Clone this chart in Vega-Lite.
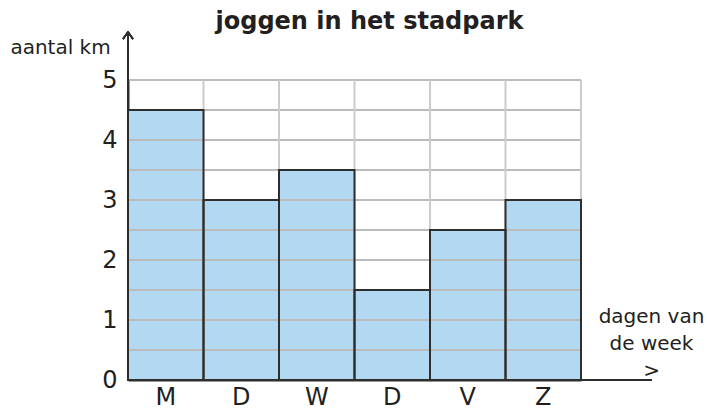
{
  "$schema": "https://vega.github.io/schema/vega-lite/v6.json",
  "width": 453,
  "height": 300,
  "autosize": {"type": "none"},
  "padding": {"left": 128, "top": 80, "right": 126, "bottom": 32},
  "background": "white",
  "title": {
    "text": "joggen in het stadpark",
    "frame": "group",
    "anchor": "middle",
    "baseline": "alphabetic",
    "offset": 8,
    "dx": 15,
    "dy": 32,
    "fontSize": 24,
    "fontWeight": "bold",
    "font": "DejaVu Sans",
    "color": "#231f20"
  },
  "config": {
    "view": {"stroke": null},
    "font": "DejaVu Sans"
  },
  "data": {
    "values": [
      {"dag": "M", "km": 4.5},
      {"dag": "D1", "km": 3},
      {"dag": "W", "km": 3.5},
      {"dag": "D2", "km": 1.5},
      {"dag": "V", "km": 2.5},
      {"dag": "Z", "km": 3}
    ]
  },
  "encoding": {
    "x": {
      "field": "dag",
      "type": "nominal",
      "sort": null,
      "scale": {"paddingInner": 0, "paddingOuter": 0},
      "axis": {
        "title": ["dagen van", "de week", ">"],
        "titleFont": "DejaVu Sans",
        "titleFontSize": 20,
        "titleFontWeight": "normal",
        "titleColor": "#231f20",
        "titleAlign": "center",
        "titleBaseline": "top",
        "titleAnchor": null,
        "titleX": 523,
        "titleY": -74,
        "titleLineHeight": 27,
        "labelAngle": 0,
        "labelFont": "DejaVu Sans",
        "labelFontSize": 24,
        "labelColor": "#231f20",
        "labelPadding": 5,
        "labelExpr": "substring(datum.label, 0, 1)",
        "ticks": false,
        "domainColor": "#2e2e2e",
        "domainWidth": 2,
        "grid": false
      }
    },
    "y": {
      "field": "km",
      "type": "quantitative",
      "scale": {"domain": [0, 5], "nice": false},
      "axis": {
        "title": "aantal km",
        "titleFont": "DejaVu Sans",
        "titleAngle": 0,
        "titleFontSize": 20,
        "titleFontWeight": "normal",
        "titleColor": "#231f20",
        "titleAlign": "center",
        "titleBaseline": "middle",
        "titleAnchor": null,
        "titleX": -68,
        "titleY": -33,
        "values": [0, 1, 2, 3, 4, 5],
        "labelFont": "DejaVu Sans",
        "labelFontSize": 24,
        "labelColor": "#231f20",
        "labelPadding": 11,
        "ticks": false,
        "domainColor": "#2e2e2e",
        "domainWidth": 2,
        "grid": false
      }
    }
  },
  "layer": [
    {
      "mark": {"type": "bar", "fill": "#b3d8f1", "strokeWidth": 0}
    },
    {
      "data": {
        "values": [
          {"km": 0.5}, {"km": 1}, {"km": 1.5}, {"km": 2}, {"km": 2.5},
          {"km": 3}, {"km": 3.5}, {"km": 4}, {"km": 4.5}, {"km": 5}
        ]
      },
      "mark": {"type": "rule", "color": "#bbbbbb", "strokeWidth": 2},
      "encoding": {
        "x": null,
        "y": {"field": "km", "type": "quantitative"}
      }
    },
    {
      "mark": {"type": "rule", "color": "#cccccc", "strokeWidth": 2},
      "encoding": {
        "x": {"field": "dag", "type": "nominal", "sort": null, "bandPosition": 1},
        "y": {"datum": 0},
        "y2": {"datum": 5}
      }
    },
    {
      "mark": {"type": "bar", "fill": null, "fillOpacity": 0, "stroke": "#2e2e2e", "strokeWidth": 2}
    },
    {
      "mark": {"type": "rule", "color": "#2e2e2e", "strokeWidth": 1.5},
      "encoding": {
        "x": {"datum": "M", "bandPosition": 0},
        "y": {"datum": 0},
        "y2": {"datum": 5.8}
      }
    },
    {
      "mark": {"type": "rule", "color": "#2e2e2e", "strokeWidth": 1.5},
      "encoding": {
        "x": {"datum": "Z", "bandPosition": 1},
        "x2": {"datum": "Z", "bandPosition": 1.94},
        "y": {"datum": 0}
      }
    },
    {
      "mark": {
        "type": "point",
        "shape": "M-1,1.4L0,0L1,1.4",
        "filled": false,
        "stroke": "#2e2e2e",
        "strokeWidth": 1.5,
        "size": 100,
        "opacity": 1
      },
      "encoding": {
        "x": {"datum": "M", "bandPosition": 0},
        "y": {"datum": 5.8}
      }
    }
  ]
}
